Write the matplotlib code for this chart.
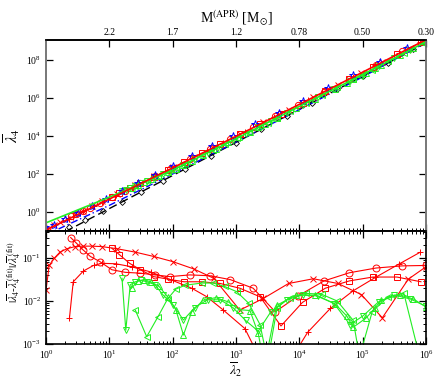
import matplotlib
matplotlib.use("Agg")
import matplotlib.pyplot as plt
import numpy as np

plt.rcParams['font.family'] = ['Liberation Serif', 'DejaVu Serif']
plt.rcParams['mathtext.fontset'] = 'stix'

# ---- fit curves (log10 lambda2, log10 lambda4)
red_fit_t = [0, 1, 2, 3, 4, 5, 6]
red_fit_y = [-0.95, 0.68, 2.32, 3.98, 5.66, 7.35, 9.06]
green_fit_t = [0, 1, 2, 3, 4, 5, 6]
green_fit_y = [-0.57, 0.78, 2.2, 3.85, 5.55, 7.22, 8.95]
blue_fit_t = [0, 1, 2, 3, 4, 5, 6]
blue_fit_y = [-1.2, 0.35, 2.0, 3.68, 5.38, 7.1, 8.92]
black_fit_t = [0.3, 1, 2, 3, 4, 5, 6]
black_fit_y = [-1.04, 0.18, 1.92, 3.66, 5.4, 7.14, 8.88]

# blue asterisks (log10 lambda2, log10 lambda4)
blue_t = [-0.02, 0.12, 0.3, 0.5, 0.72, 0.95, 1.2, 1.45, 1.72, 2.0, 2.3, 2.62,
          2.95, 3.3, 3.68, 4.05, 4.45, 4.85, 5.27, 5.7]
blue_y = [-0.8, -0.67, -0.38, -0.05, 0.3, 0.68, 1.1, 1.5, 1.96, 2.42, 2.92, 3.45,
          4.0, 4.6, 5.22, 5.85, 6.5, 7.18, 7.88, 8.6]
# black diamonds
black_t = [0.36, 0.62, 0.9, 1.2, 1.5, 1.85, 2.2, 2.6, 3.0, 3.4, 3.8, 4.2, 4.6, 5.0, 5.4, 5.8]
black_y = [-0.78, -0.40, 0.05, 0.55, 1.05, 1.65, 2.25, 2.95, 3.65, 4.35, 5.05, 5.75,
           6.45, 7.15, 7.85, 8.55]

# ---- residuals (log10 lambda2, log10 relative residual)
cross_t = [0.0, 0.05, 0.13, 0.22, 0.33, 0.46, 0.58, 0.72, 0.88, 1.12, 1.41, 1.70, 2.0,
           2.33, 2.65, 3.06, 3.43, 3.83, 4.22, 4.61, 4.98, 5.31, 5.72, 6.0]
cross_r = [-1.75, -1.17, -1.0, -0.86, -0.78, -0.73, -0.72, -0.72, -0.73, -0.78, -0.86,
           -0.96, -1.08, -1.25, -1.47, -2.21, -1.94, -1.59, -1.48, -1.59, -1.85, -2.39,
           -1.49, -1.2]
circle_t = [0.39, 0.48, 0.58, 0.70, 0.85, 1.04, 1.25, 1.49, 1.72, 1.96, 2.27, 2.59,
            2.91, 3.27, 3.62, 3.98, 4.39, 4.79, 5.21, 5.62, 6.0]
circle_r = [-0.52, -0.65, -0.80, -0.96, -1.08, -1.27, -1.33, -1.35, -1.39, -1.43, -1.39,
            -1.41, -1.50, -1.70, -2.25, -1.88, -1.53, -1.34, -1.23, -1.18, -1.17]
square_t = [1.04, 1.16, 1.32, 1.49, 1.70, 1.93, 2.18, 2.46, 2.75, 3.06, 3.38, 3.71,
            4.05, 4.41, 4.79, 5.16, 5.54, 5.92]
square_r = [-0.77, -0.92, -1.12, -1.27, -1.43, -1.49, -1.55, -1.55, -1.59, -1.70, -1.90,
            -2.58, -2.03, -1.70, -1.53, -1.44, -1.44, -1.55]
plus_t = [0.37, 0.43, 0.59, 0.75, 0.88, 1.1, 1.35, 1.65, 2.0, 2.3, 2.54, 2.80, 3.14,
          3.6, 4.13, 4.49, 4.85, 5.2, 5.57, 5.91]
plus_r = [-2.40, -1.55, -1.30, -1.17, -1.12, -1.13, -1.2, -1.32, -1.52, -1.70, -1.90,
          -2.21, -2.64, -4.0, -2.73, -2.17, -1.76, -1.45, -1.14, -0.86]
tdown_t = [1.20, 1.26, 1.33, 1.41, 1.50, 1.60, 1.72, 1.85, 2.00, 2.17, 2.35, 2.55, 2.75,
           2.95, 3.15, 3.35, 3.55, 3.80, 4.05, 4.30, 4.55, 4.80, 5.00, 5.25, 5.50, 5.75, 6.0]
tdown_r = [-1.47, -2.68, -1.62, -1.55, -1.52, -1.55, -1.62, -1.86, -2.08, -2.44, -2.15,
           -1.97, -1.97, -2.15, -2.45, -2.70, -2.25, -1.97, -1.86, -1.88, -2.06, -2.55,
           -2.35, -2.02, -1.86, -1.95, -2.12]
tleft_t = [1.41, 1.59, 1.77, 1.92, 2.05, 2.20, 2.46, 2.64, 2.82, 3.01, 3.20, 3.38, 3.50,
           3.65, 3.85, 4.1, 4.35, 4.6, 4.85, 4.95, 5.15, 5.4, 5.65, 5.95]
tleft_r = [-2.21, -2.83, -2.36, -1.95, -1.72, -1.63, -1.58, -1.58, -1.66, -1.78, -2.05,
           -2.55, -3.4, -2.15, -1.92, -1.82, -1.84, -2.0, -2.45, -3.3, -2.25, -1.9, -1.82,
           -3.6]
tup_t = [1.35, 1.45, 1.55, 1.65, 1.78, 1.92, 2.05, 2.17, 2.30, 2.48, 2.68, 2.88, 3.05,
         3.22, 3.35, 3.45, 3.64, 3.95, 4.24, 4.56, 4.75, 4.85, 5.05, 5.19, 5.29, 5.59,
         5.8, 6.0]
tup_r = [-1.7, -1.53, -1.5, -1.55, -1.65, -1.9, -2.2, -2.79, -2.25, -1.98, -1.92, -2.02,
         -2.2, -2.22, -2.75, -3.5, -2.10, -1.86, -1.86, -2.06, -2.35, -2.61, -2.4, -2.17,
         -1.98, -1.86, -1.95, -2.14]

mass_labels = ['2.2', '1.7', '1.2', '0.78', '0.50', '0.30']

RED = '#ff0000'
GREEN = '#22ee22'
BLUE = '#0000ff'

fig = plt.figure(figsize=(4.36, 3.84), dpi=100)
ax1 = fig.add_axes([0.1055, 0.3984, 0.8716, 0.4974])
ax2 = fig.add_axes([0.1055, 0.1042, 0.8716, 0.2943])


def p10(a):
    return 10.0 ** np.asarray(a, dtype=float)


# top panel
ax1.plot(p10(black_fit_t), p10(black_fit_y), color='k', ls=(0, (6, 3)), lw=1.0)
ax1.plot(p10(blue_fit_t), p10(blue_fit_y), color=BLUE, ls=(0, (5, 2, 1, 2)), lw=1.0)
ax1.plot(p10(black_t), p10(black_y), ls='none', marker='D', ms=3, mfc='none', mec='k', mew=0.6)

def top_markers(ts, rs, fit_t, fit_y, color, marker):
    fit = np.interp(ts, fit_t, fit_y)
    y = p10(fit) * (1 + p10(rs))
    ax1.plot(p10(ts), y, ls='none', marker=marker, ms=4.5, mfc='none', mec=color, mew=0.7)

top_markers(circle_t, circle_r, red_fit_t, red_fit_y, RED, 'o')
top_markers(square_t, square_r, red_fit_t, red_fit_y, RED, 's')
top_markers(cross_t, cross_r, red_fit_t, red_fit_y, RED, 'x')
top_markers(plus_t, plus_r, red_fit_t, red_fit_y, RED, '+')
top_markers(tdown_t, tdown_r, green_fit_t, green_fit_y, GREEN, 'v')
top_markers(tleft_t, tleft_r, green_fit_t, green_fit_y, GREEN, '<')
top_markers(tup_t, tup_r, green_fit_t, green_fit_y, GREEN, '^')
ax1.plot(p10(blue_t), p10(blue_y), ls='none', marker='*', ms=6, mfc='none', mec=BLUE, mew=0.7)
ax1.plot(p10(green_fit_t), p10(green_fit_y), color=GREEN, lw=1.2)
ax1.plot(p10(red_fit_t), p10(red_fit_y), color=RED, lw=1.2)

ax1.set_xscale('log')
ax1.set_yscale('log')
ax1.set_xlim(1, 1e6)
ax1.set_ylim(1e-1, 1.1e9)
ax1.set_yticks([1e0, 1e2, 1e4, 1e6, 1e8])
ax1.yaxis.set_minor_locator(matplotlib.ticker.NullLocator())
ax1.xaxis.set_minor_locator(matplotlib.ticker.LogLocator(base=10, subs=np.arange(2, 10), numticks=20))
ax1.tick_params(which='both', direction='in', right=True, labelsize=7)
ax1.tick_params(which='major', length=5, width=0.9)
ax1.tick_params(which='minor', length=2.5, width=0.7)
ax1.tick_params(axis='x', labelbottom=False)
ax1.set_ylabel(r'$\overline{\lambda}_4$', fontsize=11, labelpad=3)

top = ax1.twiny()
top.set_xscale('log')
top.set_xlim(1, 1e6)
top.set_xticks([1e1, 1e2, 1e3, 1e4, 1e5, 1e6])
top.set_xticklabels(mass_labels)
top.xaxis.set_minor_locator(matplotlib.ticker.NullLocator())
top.tick_params(direction='in', length=5, width=0.9, labelsize=7, pad=2)
top.set_xlabel(r'M$^{\rm (APR)}$ [M$_{\odot}$]', fontsize=10, labelpad=4)

# bottom panel
series = [
    (cross_t, cross_r, RED, 'x'),
    (circle_t, circle_r, RED, 'o'),
    (square_t, square_r, RED, 's'),
    (plus_t, plus_r, RED, '+'),
    (tdown_t, tdown_r, GREEN, 'v'),
    (tleft_t, tleft_r, GREEN, '<'),
    (tup_t, tup_r, GREEN, '^'),
]
for ts, rs, color, marker in series:
    ax2.plot(p10(ts), p10(rs), color=color, lw=0.8, marker=marker, ms=5,
             mfc='none', mec=color, mew=0.7)

ax2.set_xscale('log')
ax2.set_yscale('log')
ax2.set_xlim(1, 1e6)
ax2.set_ylim(1e-3, 0.43)
ax2.tick_params(which='both', direction='in', top=True, right=True, labelsize=7)
ax2.tick_params(which='major', length=5, width=0.9)
ax2.tick_params(which='minor', length=2.5, width=0.7)
ax2.xaxis.set_minor_locator(matplotlib.ticker.LogLocator(base=10, subs=np.arange(2, 10), numticks=20))
ax2.yaxis.set_minor_locator(matplotlib.ticker.LogLocator(base=10, subs=np.arange(2, 10), numticks=20))
ax2.set_xlabel(r'$\overline{\lambda}_2$', fontsize=10, labelpad=0)
fig.text(0.033, 0.29,
         r'$|\overline{\lambda}_4$-$\overline{\lambda}_4^{\ \rm (fit)}|/\overline{\lambda}_4^{\ \rm (fit)}$',
         rotation=90, ha='center', va='center', fontsize=8)

for ax in (ax1, ax2, top):
    for s in ax.spines.values():
        s.set_linewidth(1.2)
for s in ('left', 'right'):
    ax1.spines[s].set_color('#777777')
    top.spines[s].set_color('#777777')

fig.savefig('out.png', dpi=100)
